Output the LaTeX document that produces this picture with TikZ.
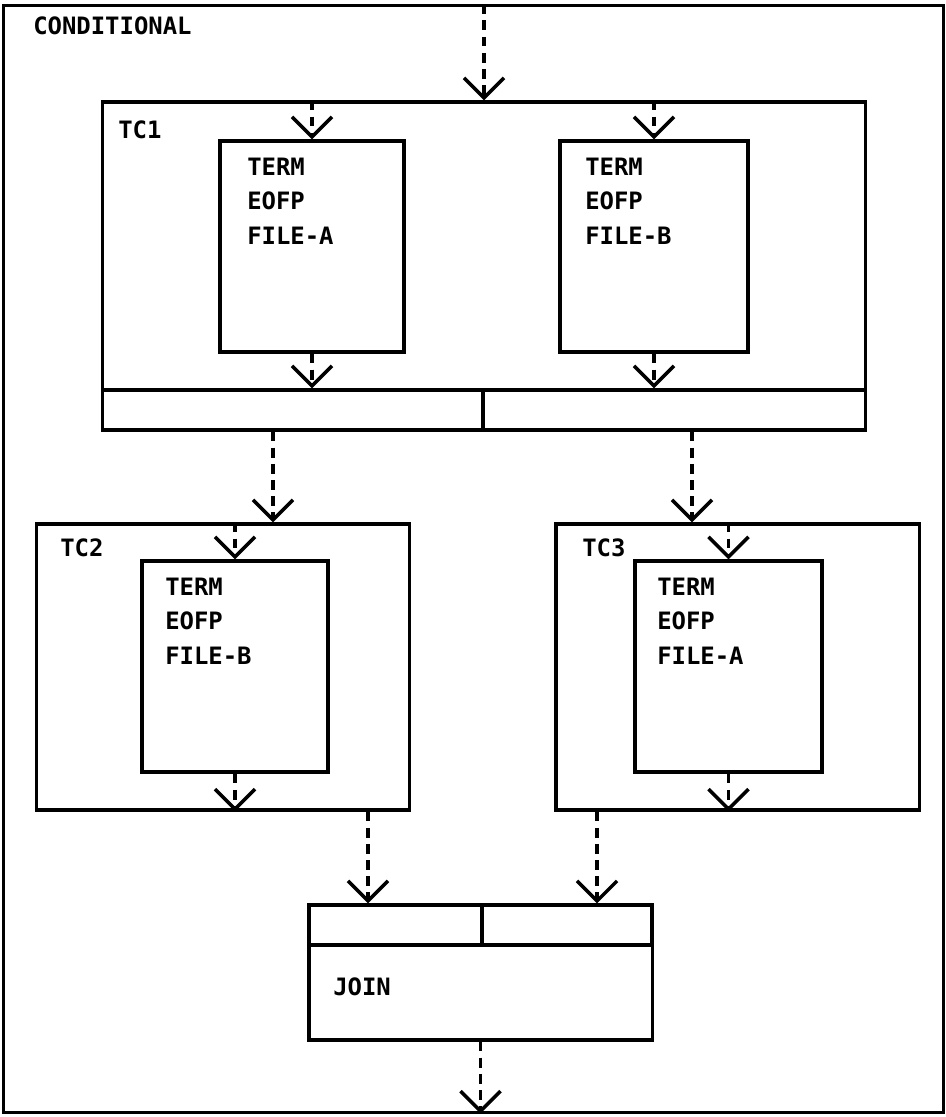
\documentclass[tikz,border=0pt]{standalone}
\usepackage{fontspec}
\newfontfamily\termfont{DejaVu Sans Mono}
\usetikzlibrary{arrows.meta}
\begin{document}
\begin{tikzpicture}[x=0.025cm, y=-0.025cm,
      frame/.style={draw,line width=2.2pt,inner sep=0pt},
      txt/.style={font=\termfont\bfseries\fontsize{17}{24.5}\selectfont,
                  inner sep=0pt,align=left,anchor=base west},
      flow/.style={line width=2.2pt,dash pattern=on 7pt off 4.5pt,
                   -{Straight Barb[length=0.5cm,width=1.0cm,line width=2.5pt]}}
    ]
    \useasboundingbox (0,0) rectangle (946,1117);
    % Outer frame
    \node[frame, minimum width=23.475cm, minimum height=27.65cm] (cond) at (473.5,559) {};
    \node[txt] (condl) at (33,35) {CONDITIONAL};
    % TC1 with its two terms
    \node[frame, minimum width=19.05cm, minimum height=8.2cm] (tc1) at (484,266) {};
    \node[txt] (tc1l) at (118,138) {TC1};
    \node[frame, minimum width=4.6cm, minimum height=5.275cm] (fa) at (312,246.5) {};
    \node[txt] (fal) at (247,244) {TERM\\EOFP\\FILE-A};
    \node[frame, minimum width=4.7cm, minimum height=5.275cm] (fb) at (654,246.5) {};
    \node[txt] (fbl) at (585,244) {TERM\\EOFP\\FILE-B};
    \node[frame, minimum width=9.5cm, minimum height=1cm] (b1l) at (293,410) {};
    \node[frame, minimum width=9.55cm, minimum height=1cm] (b1r) at (674,410) {};
    % TC2
    \node[frame, minimum width=9.3cm, minimum height=7.15cm] (tc2) at (223,667) {};
    \node[txt] (tc2l) at (60,556) {TC2};
    \node[frame, minimum width=4.65cm, minimum height=5.275cm] (fc) at (235,666.5) {};
    \node[txt] (fcl) at (165,664) {TERM\\EOFP\\FILE-B};
    % TC3
    \node[frame, minimum width=9.075cm, minimum height=7.15cm] (tc3) at (737.5,667) {};
    \node[txt] (tc3l) at (582,556) {TC3};
    \node[frame, minimum width=4.675cm, minimum height=5.275cm] (fd) at (728.5,666.5) {};
    \node[txt] (fdl) at (657,664) {TERM\\EOFP\\FILE-A};
    % Join
    \node[frame, minimum width=4.325cm, minimum height=1cm] (j1) at (395.5,925) {};
    \node[frame, minimum width=4.25cm, minimum height=1cm] (j2) at (567,925) {};
    \node[frame, minimum width=8.575cm, minimum height=2.375cm] (join) at (480.5,992.5) {};
    \node[txt] (joinl) at (333,995) {JOIN};
    % Flow
    \coordinate (o1) at ([xshift=-0.5cm]b1l.south);
    \coordinate (o2) at ([xshift=0.45cm]b1r.south);
    \coordinate (i1) at ([xshift=-0.6875cm]j1.north);
    \coordinate (i2) at ([xshift=0.75cm]j2.north);
    \draw[flow] (cond.north -| tc1.north) -- (tc1.north);
    \draw[flow] (tc1.north -| fa.north) -- (fa.north);
    \draw[flow] (tc1.north -| fb.north) -- (fb.north);
    \draw[flow] (fa.south) -- (fa.south |- b1l.north);
    \draw[flow] (fb.south) -- (fb.south |- b1r.north);
    \draw[flow] (o1) -- (o1 |- tc2.north);
    \draw[flow] (o2) -- (o2 |- tc3.north);
    \draw[flow] (tc2.north -| fc.north) -- (fc.north);
    \draw[flow] (fc.south) -- (fc.south |- tc2.south);
    \draw[flow] (tc3.north -| fd.north) -- (fd.north);
    \draw[flow] (fd.south) -- (fd.south |- tc3.south);
    \draw[flow] (i1 |- tc2.south) -- (i1);
    \draw[flow] (i2 |- tc3.south) -- (i2);
    \draw[flow] (join.south) -- (join.south |- cond.south);
  \end{tikzpicture}
\end{document}
